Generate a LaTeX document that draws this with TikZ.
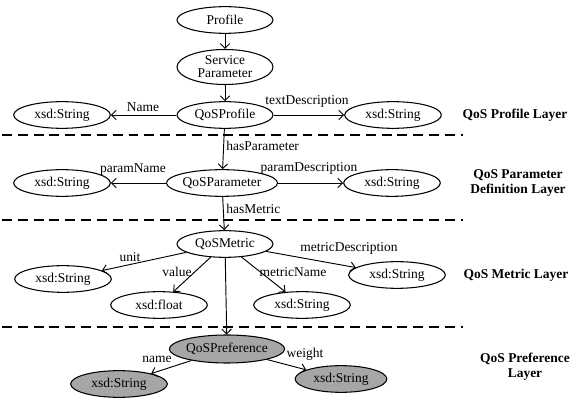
\documentclass[tikz,border=0pt]{standalone}
\usepackage{fontspec}
\setmainfont{Liberation Serif}
\usetikzlibrary{shapes.geometric,arrows.meta}
\begin{document}
\begin{tikzpicture}[x=0.03cm,y=-0.03cm,font=\fontsize{11.5}{11}\selectfont,
	cls/.style={ellipse,draw,line width=0.9pt,inner sep=0pt,minimum width=2.88cm,minimum height=0.8cm},
	lit/.style={cls,minimum width=2.9cm},
	pref/.style={fill=black!35},
	rel/.style={-{Straight Barb[length=4pt,width=8pt]},line width=0.8pt},
	lbl/.style={inner sep=1pt},
	layer/.style={font=\fontsize{11.5}{13}\selectfont\bfseries,align=center}]
	\useasboundingbox (0,0) rectangle (578,399);
	% layer separators
	\foreach \y in {135,220,327}
	{
		\draw[line width=0.9pt,dash pattern=on 8.5pt off 5pt] (2,\y) -- (463,\y);
	}
	% profile layer
	\node[cls] (profile) at (225,20) {Profile};
	\node[cls,minimum height=1.05cm,align=center] (service) at (225,67) {Service\\Parameter};
	\node[cls] (qosprofile) at (225,115) {QoSProfile};
	\node[lit] (pname) at (62,115) {xsd:String};
	\node[lit] (pdesc) at (393,115) {xsd:String};
	\draw[rel] (profile) -- (service);
	\draw[rel] (service) -- (qosprofile);
	\draw[rel] (qosprofile) -- (pname);
	\draw[rel] (qosprofile) -- (pdesc);
	\node[lbl] (lname) at (143,107) {Name};
	\node[lbl] (ltext) at (307,101) {textDescription};
	\node[layer] (lay1) at (515,115) {QoS Profile Layer};
	% parameter layer
	\node[cls,minimum width=3.03cm] (qosparam) at (222,183) {QoSParameter};
	\node[lit] (aname) at (62,183) {xsd:String};
	\node[lit] (adesc) at (392,183) {xsd:String};
	\draw[rel] (qosprofile) -- (qosparam);
	\draw[rel] (qosparam) -- (aname);
	\draw[rel] (qosparam) -- (adesc);
	\node[lbl,anchor=west] (lhaspar) at (225,146) {hasParameter};
	\node[lbl] (lpname) at (133,170) {paramName};
	\node[lbl] (lpdesc) at (309,168) {paramDescription};
	\node[layer] (lay2) at (518,183) {QoS Parameter\\Definition Layer};
	% metric layer
	\node[cls] (qosmetric) at (225,244) {QoSMetric};
	\node[lit] (munit) at (63,279) {xsd:String};
	\node[lit] (mvalue) at (159,305) {xsd:float};
	\node[lit] (mname) at (302,305) {xsd:String};
	\node[lit] (mdesc) at (397,275) {xsd:String};
	\draw[rel] (qosparam) -- (qosmetric);
	\draw[rel] (qosmetric) -- (munit);
	\draw[rel] (qosmetric) -- (mvalue);
	\draw[rel] (qosmetric) -- (mname);
	\draw[rel] (qosmetric) -- (mdesc);
	\node[lbl,anchor=west] (lhasmet) at (225,209) {hasMetric};
	\node[lbl] (lunit) at (130,257) {unit};
	\node[lbl] (lvalue) at (177,272) {value};
	\node[lbl] (lmname) at (293,272) {metricName};
	\node[lbl] (lmdesc) at (349,248) {metricDescription};
	\node[layer] (lay3) at (516,275) {QoS Metric Layer};
	% preference layer
	\node[cls,pref,minimum width=3.15cm,minimum height=0.84cm] (qospref) at (227,349) {QoSPreference};
	\node[lit,pref] (rname) at (119,384) {xsd:String};
	\node[lit,pref,minimum width=2.75cm] (rweight) at (341,379) {xsd:String};
	\draw[rel] (qosmetric) -- (qospref);
	\draw[rel] (qospref) -- (rname);
	\draw[rel] (qospref) -- (rweight);
	\node[lbl] (lrname) at (157,359) {name};
	\node[lbl] (lrweight) at (305,354) {weight};
	\node[layer] (lay4) at (525,367) {QoS Preference\\Layer};
\end{tikzpicture}
\end{document}
